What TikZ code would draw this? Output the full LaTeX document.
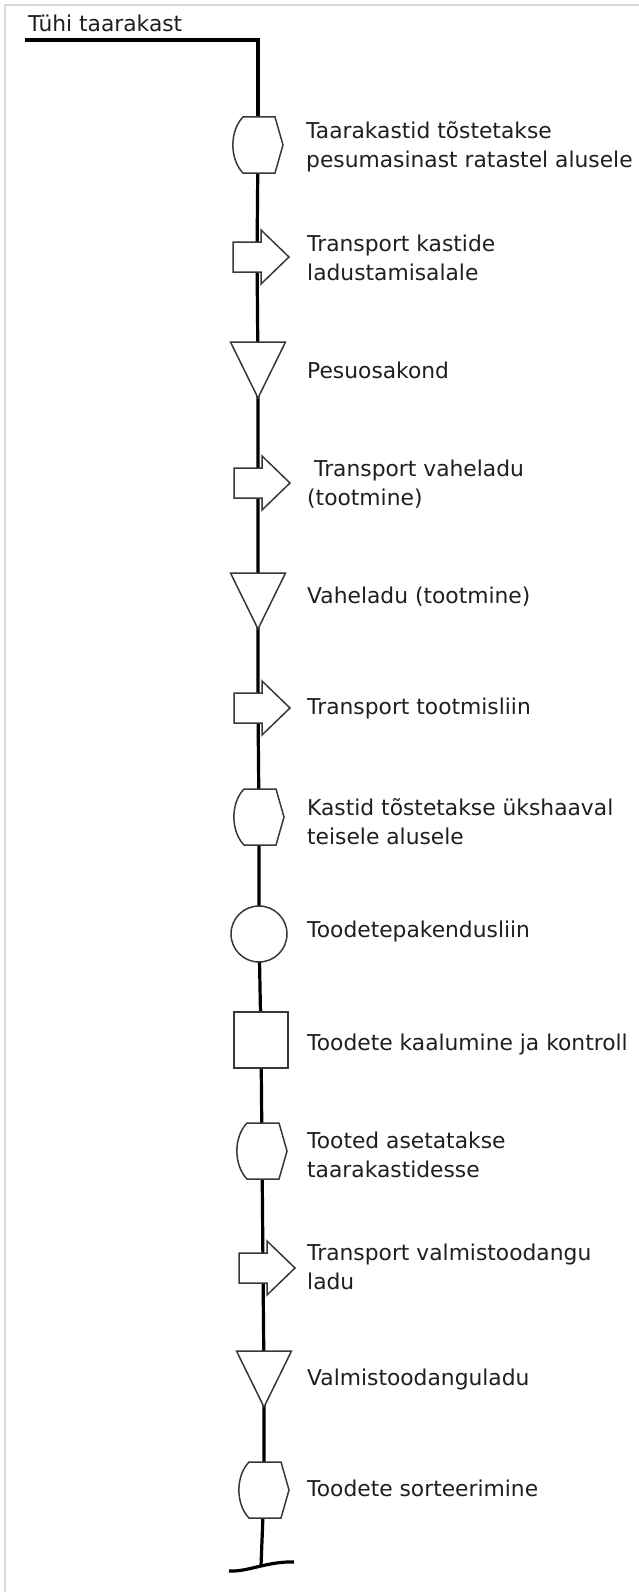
\documentclass[tikz,border=0pt]{standalone}
\usepackage{fontspec}
\setmainfont{DejaVu Sans}
\begin{document}
\begin{tikzpicture}[x=1pt,y=-1pt,
  flow/.style={line width=3.2pt, draw=black},
  outline/.style={line width=1.5pt, draw=black!78, fill=white, line join=miter},
  spot/.style={rectangle, inner sep=0pt, minimum size=56pt, draw=none},
  lbl/.style={anchor=base west, inner sep=0pt, align=left,
    font=\fontsize{21.8}{28.5}\selectfont, text=black!88},
  frameline/.style={line width=1.2pt, draw=black!15}]

% page frame
\useasboundingbox (0,0) rectangle (639,1592);
\draw[frameline] (5,1592) -- (5,5) -- (639,5);

% symbols: handling, transport, storage, operation, inspection
\newcommand\handlingsym[1]{\draw[outline,shift={(#1.center)}]
  (-15,-28) -- (17,-28) -- (25,0) -- (17,28) -- (-15,28)
  .. controls (-28.5,14) and (-28.5,-14) .. (-15,-28) -- cycle;}
\newcommand\transportsym[1]{\draw[outline,shift={(#1.center)}]
  (-24,-15) -- (4,-15) -- (4,-27) -- (32,0) -- (4,27) -- (4,15) -- (-24,15) -- cycle;}
\newcommand\storagesym[1]{\draw[outline,shift={(#1.center)}]
  (-27.5,-28) -- (27.5,-28) -- (0,28) -- cycle;}
\newcommand\operationsym[1]{\draw[outline] (#1.center) circle[radius=28pt];}
\newcommand\inspectionsym[1]{\draw[outline,shift={(#1.center)}]
  (-27,-28) rectangle (27,28);}

% positions of the steps
\node[spot] (h1) at (258,145) {};
\node[spot] (m1) at (257,257) {};
\node[spot] (s1) at (258,370) {};
\node[spot] (m2) at (258,483) {};
\node[spot] (s2) at (258,601) {};
\node[spot] (m3) at (258,708) {};
\node[spot] (h2) at (259,817) {};
\node[spot] (o1) at (259,934) {};
\node[spot] (i1) at (261,1040) {};
\node[spot] (h3) at (262,1151) {};
\node[spot] (m4) at (263,1268) {};
\node[spot] (s3) at (264,1379) {};
\node[spot] (h4) at (264,1490) {};

\coordinate (start) at (25,40);
\coordinate (finish) at (261,1566);
\coordinate (wl) at (229,1571);
\coordinate (wr) at (294,1562);

% flow line
\draw[flow] (start) -| (h1.center);
\draw[flow] (h1.center) -- (m1.center) -- (s1.center) -- (m2.center)
  -- (s2.center) -- (m3.center) -- (h2.center) -- (o1.center)
  -- (i1.center) -- (h3.center) -- (m4.center) -- (s3.center)
  -- (h4.center) -- (finish);
\draw[flow] (wl) .. controls (248,1572) and (268,1561) .. (wr);

% symbols on top of the line
\handlingsym{h1}
\transportsym{m1}
\storagesym{s1}
\transportsym{m2}
\storagesym{s2}
\transportsym{m3}
\handlingsym{h2}
\operationsym{o1}
\inspectionsym{i1}
\handlingsym{h3}
\transportsym{m4}
\storagesym{s3}
\handlingsym{h4}

% labels (two-line labels are placed by their last baseline)
\node[lbl] (t0) at (28,32) {Tühi taarakast};
\node[lbl] (t1) at (306,167) {Taarakastid tõstetakse\\pesumasinast ratastel alusele};
\node[lbl] (t2) at (307,280) {Transport kastide\\ladustamisalale};
\node[lbl] (t3) at (307,378) {Pesuosakond};
\node[lbl] (t4) at (307,505) {\ Transport vaheladu\\(tootmine)};
\node[lbl] (t5) at (307,603) {Vaheladu (tootmine)};
\node[lbl] (t6) at (307,714) {Transport tootmisliin};
\node[lbl] (t7) at (307,844) {Kastid tõstetakse ükshaaval\\teisele alusele};
\node[lbl] (t8) at (307,937) {Toodetepakendusliin};
\node[lbl] (t9) at (307,1050) {Toodete kaalumine ja kontroll};
\node[lbl] (t10) at (307,1177) {Tooted asetatakse\\taarakastidesse};
\node[lbl] (t11) at (307,1289) {Transport valmistoodangu\\ladu};
\node[lbl] (t12) at (307,1385) {Valmistoodanguladu};
\node[lbl] (t13) at (307,1496) {Toodete sorteerimine};
\end{tikzpicture}
\end{document}
